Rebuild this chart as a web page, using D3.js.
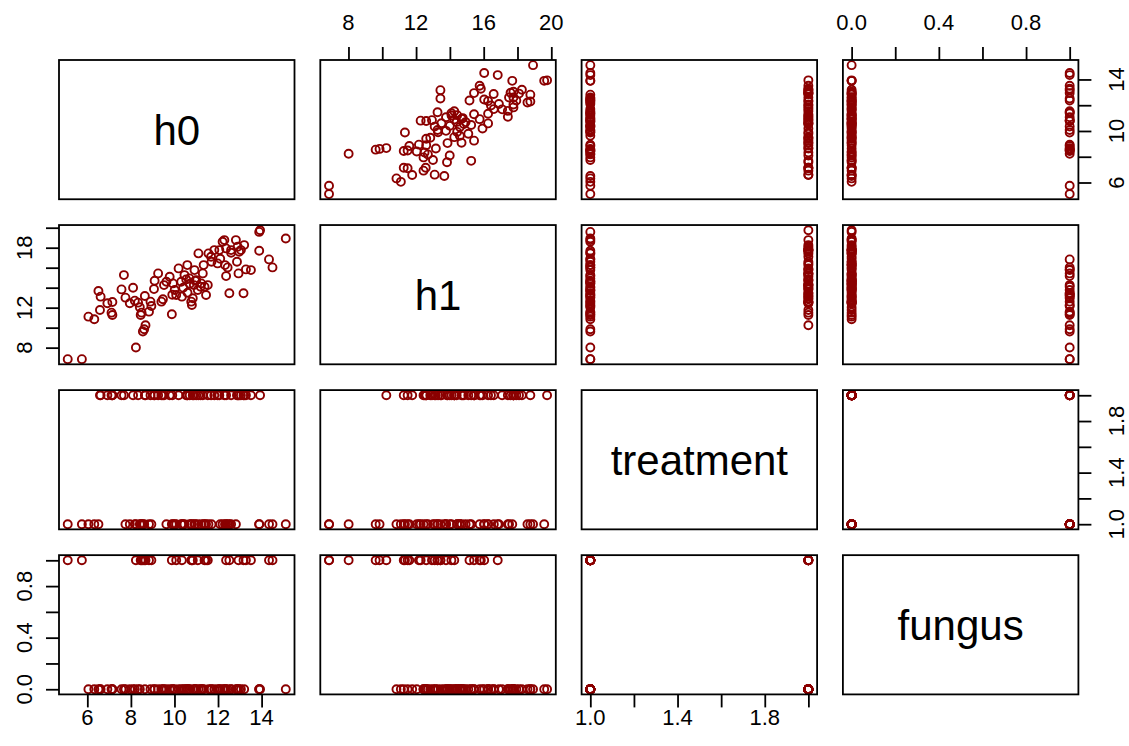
<!DOCTYPE html>
<html>
<head>
<meta charset="utf-8">
<script src="https://cdn.jsdelivr.net/npm/d3@7/dist/d3.min.js"></script>
<style>
  body { margin: 0; background: #fff; }
  text { font-family: "Liberation Sans", Arial, sans-serif; fill: #000; }
</style>
</head>
<body>
<script>
// data (100 plants)
var h0 = [5.10,5.75,8.23,8.55,8.61,8.67,6.05,6.32,6.58,7.11,7.15,6.92,7.15,6.51,6.61,7.68,7.57,8.10,7.75,7.95,
          8.18,8.33,8.41,8.45,8.49,8.64,8.83,8.94,9.06,9.09,9.25,9.40,9.47,9.52,9.63,9.78,9.88,9.93,10.01,10.08,
          10.19,10.31,10.34,10.46,10.54,10.59,10.69,10.77,10.80,10.84,10.89,10.92,11.00,11.07,11.10,11.23,11.30,11.34,11.38,11.45,
          11.53,11.56,11.68,11.83,11.98,12.06,12.21,12.29,12.32,12.37,12.44,12.37,12.52,12.60,12.82,12.87,12.90,12.97,12.94,13.05,
          13.20,13.17,13.28,13.51,13.89,13.93,13.89,14.34,14.50,15.11,10.40,10.70,11.20,9.90,10.95,12.10,8.90,11.70,12.60,10.60];
var h1 = [6.85,6.85,8.01,9.61,9.84,10.24,11.10,10.84,11.77,11.50,11.27,12.44,12.57,13.67,13.10,15.26,13.83,13.99,13.00,12.44,
          12.70,12.50,12.04,11.27,11.50,13.17,11.60,12.17,13.86,14.69,15.43,12.60,12.84,14.26,14.59,15.09,11.34,14.43,13.77,13.27,
          15.93,14.59,13.10,15.26,14.83,16.26,14.93,12.60,12.27,12.94,14.26,15.76,14.76,13.77,17.43,14.43,15.43,16.26,14.09,13.27,
          14.26,17.43,17.09,17.76,16.43,17.76,18.59,18.76,16.26,17.93,16.03,15.16,13.44,17.76,18.76,16.59,18.09,17.59,15.43,17.76,
          18.26,13.44,15.83,15.76,19.58,19.75,17.69,16.83,16.03,18.92,14.00,14.40,14.10,13.30,14.70,16.90,12.60,16.60,17.50,13.50];
var treatment = [1,1,1,1,1,2,1,1,2,2,2,2,2,1,2,2,2,2,1,1,
                 1,2,1,1,1,2,1,1,2,2,2,2,2,2,1,2,1,1,1,1,
                 2,1,1,1,2,2,1,1,1,2,2,1,2,1,2,1,2,1,1,1,
                 2,1,2,2,2,2,1,2,1,2,1,1,1,2,1,2,2,2,2,2,
                 2,2,2,2,1,2,1,1,1,1,1,2,2,2,1,1,2,1,1,2];
var fungus = [1,1,1,1,1,1,0,0,0,0,0,0,0,0,0,0,0,0,0,0,
              0,0,0,1,1,0,1,1,0,0,0,0,0,0,0,0,1,0,0,1,
              0,0,1,0,0,0,0,1,1,1,0,0,0,1,0,0,0,0,1,1,
              1,0,0,0,0,0,0,0,0,0,0,1,1,0,0,0,0,0,1,0,
              0,1,1,1,0,0,0,1,1,0,0,0,0,0,0,0,0,0,0,0];
var varNames = ["h0", "h1", "treatment", "fungus"];

// tick marks and the labels R kept
var h0Ticks = [6, 8, 10, 12, 14];
var h1Ticks = [8, 10, 12, 14, 16, 18, 20];
var treatTicks = [1.0, 1.2, 1.4, 1.6, 1.8, 2.0];
var fungusTicks = [0.0, 0.2, 0.4, 0.6, 0.8, 1.0];
var topLabelsH1 = [8, 12, 16, 20];
var topLabelsFungus = [0.0, 0.4, 0.8];
var bottomLabelsH0 = [6, 8, 10, 12, 14];
var bottomLabelsTreat = [1.0, 1.4, 1.8];
var leftLabelsH1 = [8, 12, 18];
var leftLabelsFungus = [0.0, 0.4, 0.8];
var rightLabelsH0 = [6, 10, 14];
var rightLabelsTreat = [1.0, 1.4, 1.8];

var width = 1129, height = 746;
var plotLeft = 59, plotTop = 60, pw = 235.5, ph = 139.25, gap = 25.8;

var svg = d3.select("body").append("svg")
    .attr("width", width).attr("height", height);

var cols = [h0, h1, treatment, fungus];

// R style ranges: data range + 4% each side
function padded(v) {
    var e = d3.extent(v), r = e[1] - e[0];
    return [e[0] - 0.04 * r, e[1] + 0.04 * r];
}

var xScales = [], yScales = [];
cols.forEach(function(v, k) {
    var px = plotLeft + k * (pw + gap), py = plotTop + k * (ph + gap);
    xScales.push(d3.scaleLinear().domain(padded(v)).range([px, px + pw]));
    yScales.push(d3.scaleLinear().domain(padded(v)).range([py + ph, py]));
});

var dataRows = d3.range(h0.length).map(function(i) {
    return [h0[i], h1[i], treatment[i], fungus[i]];
});

for (var i = 0; i < 4; i++) {
    for (var j = 0; j < 4; j++) {
        var px = plotLeft + j * (pw + gap), py = plotTop + i * (ph + gap);
        var g = svg.append("g");
        if (i === j) {
            g.append("text")
                .attr("x", px + pw / 2).attr("y", py + ph / 2 + 15)
                .attr("text-anchor", "middle")
                .style("font-size", "42px")
                .text(varNames[i]);
        } else {
            (function(i, j) {
                g.selectAll("circle").data(dataRows).enter()
                    .append("circle")
                    .attr("cx", function(d) { return xScales[j](d[j]); })
                    .attr("cy", function(d) { return yScales[i](d[i]); })
                    .attr("r", 4)
                    .attr("fill", "none")
                    .attr("stroke", "#8b0000")
                    .attr("stroke-width", 1.9);
            })(i, j);
        }
        g.append("rect")
            .attr("x", px).attr("y", py).attr("width", pw).attr("height", ph)
            .attr("fill", "none").attr("stroke", "#000").attr("stroke-width", 1.8);
    }
}

var fmt1 = d3.format(".1f");
var tickLen = 13;

function styleAxis(sel) {
    sel.select(".domain").remove();
    sel.selectAll(".tick line").attr("stroke", "#000").attr("stroke-width", 1.8);
    sel.selectAll(".tick text").remove();
}

// top axes: h1 (col 2), fungus (col 4)
svg.append("g").attr("transform", "translate(0," + plotTop + ")")
    .call(d3.axisTop(xScales[1]).tickValues(h1Ticks).tickSize(tickLen)).call(styleAxis);
svg.append("g").attr("transform", "translate(0," + plotTop + ")")
    .call(d3.axisTop(xScales[3]).tickValues(fungusTicks).tickSize(tickLen)).call(styleAxis);
// bottom axes: h0 (col 1), treatment (col 3)
var plotBottom = plotTop + 3 * (ph + gap) + ph;
svg.append("g").attr("transform", "translate(0," + plotBottom + ")")
    .call(d3.axisBottom(xScales[0]).tickValues(h0Ticks).tickSize(tickLen)).call(styleAxis);
svg.append("g").attr("transform", "translate(0," + plotBottom + ")")
    .call(d3.axisBottom(xScales[2]).tickValues(treatTicks).tickSize(tickLen)).call(styleAxis);
// left axes: h1 (row 2), fungus (row 4)
svg.append("g").attr("transform", "translate(" + plotLeft + ",0)")
    .call(d3.axisLeft(yScales[1]).tickValues(h1Ticks).tickSize(tickLen)).call(styleAxis);
svg.append("g").attr("transform", "translate(" + plotLeft + ",0)")
    .call(d3.axisLeft(yScales[3]).tickValues(fungusTicks).tickSize(tickLen)).call(styleAxis);
// right axes: h0 (row 1), treatment (row 3)
var plotRight = plotLeft + 3 * (pw + gap) + pw;
svg.append("g").attr("transform", "translate(" + plotRight + ",0)")
    .call(d3.axisRight(yScales[0]).tickValues(h0Ticks).tickSize(tickLen)).call(styleAxis);
svg.append("g").attr("transform", "translate(" + plotRight + ",0)")
    .call(d3.axisRight(yScales[2]).tickValues(treatTicks).tickSize(tickLen)).call(styleAxis);

// tick labels (alphabetic baseline, positions given as baseline)
var fs = "22px";
function hLabels(values, scale, y, f) {
    svg.append("g").selectAll("text").data(values).enter().append("text")
        .attr("x", function(d) { return scale(d); })
        .attr("y", y)
        .attr("text-anchor", "middle")
        .style("font-size", fs)
        .text(f);
}
function vLabels(values, scale, x, f) {
    svg.append("g").selectAll("text").data(values).enter().append("text")
        .attr("transform", function(d) { return "translate(" + x + "," + scale(d) + ") rotate(-90)"; })
        .attr("text-anchor", "middle")
        .style("font-size", fs)
        .text(f);
}
var intFmt = function(d) { return d; };
hLabels(topLabelsH1, xScales[1], plotTop - 30, intFmt);
hLabels(topLabelsFungus, xScales[3], plotTop - 30, fmt1);
hLabels(bottomLabelsH0, xScales[0], plotBottom + 31, intFmt);
hLabels(bottomLabelsTreat, xScales[2], plotBottom + 31, fmt1);
vLabels(leftLabelsH1, yScales[1], plotLeft - 27, intFmt);
vLabels(leftLabelsFungus, yScales[3], plotLeft - 27, fmt1);
vLabels(rightLabelsH0, yScales[0], plotRight + 46, intFmt);
vLabels(rightLabelsTreat, yScales[2], plotRight + 46, fmt1);
</script>
</body>
</html>
